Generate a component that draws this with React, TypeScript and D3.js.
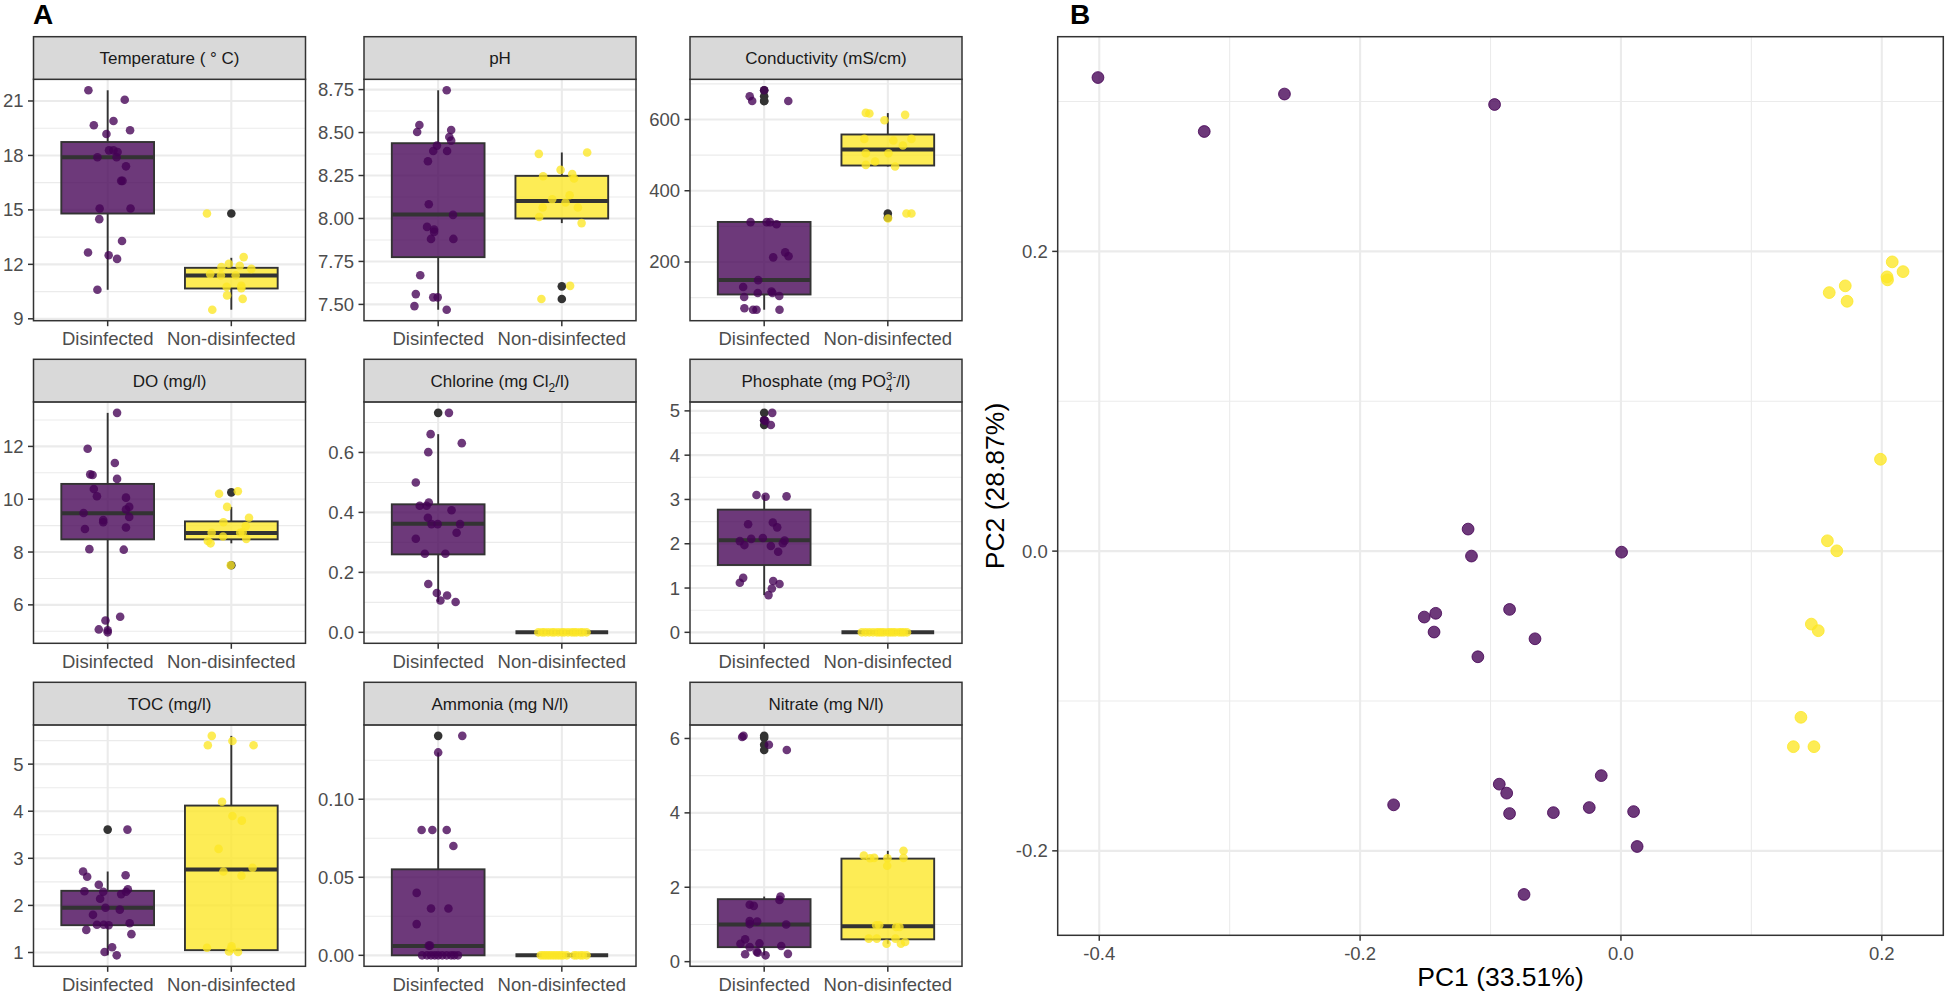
import React, { useEffect } from 'react';
import * as d3 from 'd3';

const FONT = '"Liberation Sans", Arial, Helvetica, sans-serif';
const GROUPS = ['Disinfected', 'Non-disinfected'];
const GROUP_COLORS = ['#440154', '#FDE725'];
const OUTLIER_COLOR = '#333333';

// ---------- Panel A data (values, jitter offsets in category units, box stats [lo, q1, med, q3, hi], outliers) ----------
const tempTicks = [9, 12, 15, 18, 21];
const tempDisVals = [21.59, 21.07, 19.66, 19.9, 19.39, 19.18, 18.28, 18.28, 18.19, 17.9, 17.9, 17.4, 16.6, 16.6, 15.08, 15.08, 14.49, 13.29, 12.65, 12.5, 12.3, 10.6];
const tempDisJit = [-0.156, 0.138, -0.112, 0.047, 0.181, -0.01, 0.011, 0.047, 0.08, -0.083, 0.072, 0.148, 0.109, 0.12, -0.065, 0.185, -0.068, 0.116, -0.159, 0.008, 0.076, -0.083];
const tempDisBox = [10.6, 14.8, 17.9, 18.74, 21.59];
const tempDisOut: number[] = [];
const tempNonVals = [14.8, 12.4, 12.03, 11.85, 11.92, 11.75, 11.46, 11.39, 11.4, 10.76, 10.82, 10.69, 10.29, 10.1, 9.5];
const tempNonJit = [-0.197, 0.1, -0.02, -0.08, 0.068, 0.162, -0.171, -0.084, 0.035, -0.038, 0.081, 0.081, -0.034, 0.092, -0.154];
const tempNonBox = [9.5, 10.67, 11.39, 11.81, 12.36];
const tempNonOut = [14.8];

const phTicks = [7.5, 7.75, 8.0, 8.25, 8.5, 8.75];
const phDisVals = [8.746, 8.544, 8.503, 8.515, 8.474, 8.453, 8.424, 8.393, 8.393, 8.333, 8.083, 8.021, 7.951, 7.936, 7.922, 7.881, 7.881, 7.67, 7.56, 7.541, 7.541, 7.49, 7.469];
const phDisJit = [0.069, -0.152, -0.17, 0.105, 0.09, 0.105, -0.01, -0.04, 0.072, -0.083, -0.076, 0.12, -0.09, -0.033, -0.033, -0.058, 0.123, -0.145, -0.181, -0.04, -0.004, -0.192, 0.069];
const phDisBox = [7.469, 7.775, 8.023, 8.438, 8.746];
const phDisOut: number[] = [];
const phNonVals = [8.376, 8.384, 8.283, 8.246, 8.258, 8.233, 8.135, 8.112, 8.093, 8.064, 8.064, 8.009, 7.973, 7.608, 7.531];
const phNonJit = [-0.186, 0.205, -0.01, -0.151, 0.084, 0.099, 0.063, -0.078, 0.03, -0.155, 0.13, -0.183, 0.16, 0.067, -0.165];
const phNonBox = [7.973, 8.0, 8.102, 8.248, 8.384];
const phNonOut = [7.605, 7.531];

const condTicks = [200, 400, 600];
const condDisVals = [682, 665, 652, 652, 312, 312, 312, 306, 227, 216, 213, 149, 130, 113, 117, 113, 104.5, 101.7, 70, 66, 66, 66];
const condDisJit = [0, -0.117, -0.097, 0.195, -0.11, 0.02, 0.047, 0.1, 0.17, 0.197, 0.073, -0.049, -0.17, -0.052, 0.059, 0.067, 0.122, -0.162, -0.16, -0.09, -0.062, 0.124];
const condDisBox = [66, 108.8, 149.4, 312.4, 312.4];
const condDisOut = [682, 665, 652, 652];
const condNonVals = [618.5, 616.9, 613, 598, 545.5, 541, 545.5, 527, 505.3, 505.3, 482, 472.5, 468, 336, 336, 322];
const condNonJit = [-0.178, -0.149, 0.14, -0.027, -0.19, 0.045, 0.191, 0.122, -0.178, 0.005, -0.103, -0.178, 0.059, 0.151, 0.191, 0.002];
const condNonBox = [468, 470.8, 515.7, 557.9, 618];
const condNonOut = [336, 324];

const doTicks = [6, 8, 10, 12];
const doDisVals = [13.27, 11.91, 11.37, 10.94, 10.92, 10.77, 10.39, 10.11, 10.06, 9.71, 9.61, 9.48, 9.33, 9.21, 9.13, 8.87, 8.93, 8.11, 8.09, 5.55, 5.41, 5.07, 5.04, 4.96];
const doDisJit = [0.076, -0.162, 0.058, -0.141, -0.122, 0.076, -0.112, -0.087, 0.148, 0.174, 0.148, -0.195, 0.174, -0.036, -0.036, -0.184, 0.148, -0.148, 0.13, 0.101, -0.018, -0.072, 0, 0];
const doDisBox = [4.96, 8.48, 9.47, 10.58, 13.27];
const doDisOut: number[] = [];
const doNonVals = [10.21, 10.3, 9.71, 9.3, 9.13, 8.98, 8.73, 8.73, 8.75, 8.59, 8.5, 8.42, 8.33, 7.5];
const doNonJit = [-0.099, 0.053, -0.034, 0.143, -0.064, 0.117, -0.159, 0.072, 0.092, -0.067, 0.121, -0.19, -0.168, -0.005];
const doNonBox = [8.33, 8.48, 8.72, 9.16, 9.71];
const doNonOut = [10.26, 7.5];

const clTicks = [0, 0.2, 0.4, 0.6];
const clDisVals = [0.732, 0.661, 0.601, 0.631, 0.5, 0.433, 0.422, 0.422, 0.407, 0.382, 0.361, 0.361, 0.361, 0.332, 0.312, 0.262, 0.262, 0.161, 0.131, 0.123, 0.106, 0.101];
const clDisJit = [0.087, -0.061, -0.08, 0.191, -0.181, -0.076, -0.149, -0.094, 0.108, -0.083, -0.054, -0.004, 0.177, 0.149, -0.181, -0.108, 0.058, -0.08, -0.011, 0.072, 0.018, 0.141];
const clDisBox = [0.101, 0.26, 0.362, 0.427, 0.661];
const clDisOut = [0.732];
const clNonVals = [0, 0, 0, 0, 0, 0, 0, 0, 0, 0, 0, 0, 0, 0, 0, 0];
const clNonJit = [-0.19, -0.16, -0.14, -0.11, -0.08, -0.06, -0.03, 0.0, 0.02, 0.05, 0.08, 0.1, 0.12, 0.15, 0.17, 0.2];
const clNonBox = [0, 0, 0, 0, 0];
const clNonOut: number[] = [];

const poTicks = [0, 1, 2, 3, 4, 5];
const poDisVals = [4.955, 4.79, 4.77, 4.68, 3.1, 3.06, 3.07, 2.44, 2.48, 2.37, 2.06, 2.11, 2.13, 1.97, 1.95, 2.07, 2.01, 1.82, 1.23, 1.12, 1.16, 1.09, 0.99, 0.84];
const poDisJit = [0.065, 0, 0.01, 0.054, -0.062, 0.011, 0.181, -0.13, 0.07, 0.105, -0.197, -0.105, -0.011, -0.16, 0.054, 0.165, 0.151, 0.113, -0.17, -0.197, 0.073, 0.124, 0.062, 0.035];
const poDisBox = [0.84, 1.52, 2.08, 2.77, 3.1];
const poDisOut = [4.955, 4.79, 4.68];
const poNonVals = [0, 0, 0, 0, 0, 0, 0, 0, 0, 0, 0, 0, 0, 0, 0, 0];
const poNonJit = [-0.21, -0.18, -0.15, -0.12, -0.09, -0.07, -0.05, -0.03, 0, 0.02, 0.04, 0.06, 0.09, 0.11, 0.13, 0.155];
const poNonBox = [0, 0, 0, 0, 0];
const poNonOut: number[] = [];

const tocTicks = [1, 2, 3, 4, 5];
const tocDisVals = [3.61, 2.72, 2.61, 2.64, 2.44, 2.3, 2.29, 2.34, 2.29, 2.24, 2.14, 1.95, 1.91, 1.8, 1.59, 1.59, 1.58, 1.62, 1.48, 1.39, 1.11, 1.01, 0.94];
const tocDisJit = [0.16, -0.199, -0.166, 0.145, -0.072, -0.188, -0.036, 0.163, 0.148, 0.109, -0.061, -0.018, 0.098, -0.119, -0.087, -0.032, 0.008, 0.178, -0.173, 0.192, 0.036, -0.025, 0.073];
const tocDisBox = [0.94, 1.58, 1.95, 2.31, 2.72];
const tocDisOut = [3.61];
const tocNonVals = [5.6, 5.4, 5.49, 5.4, 4.2, 3.9, 3.8, 3.2, 2.8, 2.72, 2.63, 1.1, 1.13, 1.02, 1.01, 1.08];
const tocNonJit = [-0.158, -0.19, 0.009, 0.18, -0.075, 0.009, 0.085, -0.103, 0.172, -0.064, 0.082, -0.197, 0.002, -0.019, 0.054, 0.002];
const tocNonBox = [1.01, 1.05, 2.76, 4.12, 5.6];
const tocNonOut: number[] = [];

const nh4Ticks = [0, 0.05, 0.1];
const nh4DisVals = [0.1406, 0.13, 0.0803, 0.0803, 0.0803, 0.07, 0.04, 0.03, 0.03, 0.02, 0.0062, 0.0062, 0, 0, 0, 0, 0, 0, 0, 0, 0, 0];
const nh4DisJit = [0.195, 0, -0.134, -0.047, 0.069, 0.123, -0.174, -0.058, 0.083, -0.174, -0.076, -0.066, -0.13, -0.09, -0.058, -0.028, 0, 0.033, 0.069, 0.105, 0.13, 0.16];
const nh4DisBox = [0, 0, 0.006, 0.0551, 0.13];
const nh4DisOut = [0.1406];
const nh4NonVals = [0, 0, 0, 0, 0, 0, 0, 0, 0, 0, 0, 0, 0, 0, 0, 0];
const nh4NonJit = [-0.17, -0.15, -0.13, -0.11, -0.09, -0.07, -0.05, -0.03, -0.01, 0.01, 0.04, 0.1, 0.12, 0.15, 0.17, 0.2];
const nh4NonBox = [0, 0, 0, 0, 0];
const nh4NonOut: number[] = [];

const no3Ticks = [0, 2, 4, 6];
const no3DisVals = [6.04, 6.07, 5.83, 5.69, 1.75, 1.66, 1.53, 1.5, 1.09, 1.08, 1.01, 1.0, 0.6, 0.48, 0.49, 0.39, 0.42, 0.27, 0.2, 0.24, 0.17, 0.21];
const no3DisJit = [-0.178, -0.167, 0.038, 0.183, 0.132, 0.124, -0.117, -0.084, -0.117, -0.057, -0.117, 0.178, -0.154, -0.192, -0.038, -0.117, 0.138, -0.06, -0.154, -0.052, 0.011, 0.192];
const no3DisBox = [0.17, 0.39, 1.0, 1.68, 1.75];
const no3DisOut = [6.07, 6.02, 5.83, 5.69];
const no3NonVals = [2.85, 2.78, 2.79, 2.78, 2.98, 2.79, 2.58, 0.98, 0.98, 0.93, 0.93, 0.62, 0.62, 0.62, 0.48, 0.48, 0.53];
const no3NonJit = [-0.194, -0.143, -0.11, -0.003, 0.127, 0.127, -0.005, -0.094, -0.07, 0.067, 0.094, -0.154, -0.089, 0.062, -0.01, 0.106, 0.14];
const no3NonBox = [0.48, 0.6, 0.95, 2.77, 2.98];
const no3NonOut: number[] = [];

// ---------- Panel B data (PCA scores) ----------
const pcaDisPC1 = [-0.401, -0.3195, -0.258, -0.0969, -0.1172, -0.1146, 0.0005, -0.142, -0.1508, -0.1433, -0.0854, -0.0659, -0.1097, -0.0151, -0.0933, -0.0876, -0.1743, -0.0854, -0.0518, -0.0243, 0.0097, 0.0124, -0.0743];
const pcaDisPC2 = [0.316, 0.28, 0.305, 0.298, 0.0147, -0.0033, -0.0007, -0.0415, -0.044, -0.054, -0.0389, -0.0585, -0.0705, -0.1498, -0.1555, -0.1615, -0.1693, -0.1751, -0.1745, -0.1711, -0.1738, -0.1971, -0.2291];
const pcaNonPC1 = [0.208, 0.2163, 0.204, 0.2044, 0.172, 0.1597, 0.1734, 0.199, 0.1583, 0.1655, 0.146, 0.1513, 0.138, 0.1322, 0.148];
const pcaNonPC2 = [0.193, 0.1865, 0.183, 0.181, 0.177, 0.1725, 0.1667, 0.0613, 0.0069, 0.0002, -0.0487, -0.0531, -0.1109, -0.1305, -0.1305];
const pcXTicks = [-0.4, -0.2, 0.0, 0.2];
const pcYTicks = [-0.2, 0.0, 0.2];
const pcXTitle = 'PC1 (33.51%)';
const pcYTitle = 'PC2 (28.87%)';

// ---------- layout ----------
const COL_LEFT = [33.5, 364, 690];
const ROW_TOP = [36.7, 359.3, 682.3];
const PANEL_W = 272;
const PANEL_H = 284;
const STRIP_H = 42.6;
const B_LEFT = 1057.7, B_RIGHT = 1943.3, B_TOP = 36.7, B_BOTTOM = 935.3;
const TICK_FS = 18.5;
const STRIP_FS = 17;
const GRID = '#EBEBEB';
const BORDER = '#333333';

type Group = { vals: number[]; jit: number[]; box: number[]; out: number[] };
type Panel = { key: string; ticks: number[]; fmt: string; groups: Group[] };

const panels: Panel[] = [
  { key: 'temp', ticks: tempTicks, fmt: 'd', groups: [
    { vals: tempDisVals, jit: tempDisJit, box: tempDisBox, out: tempDisOut },
    { vals: tempNonVals, jit: tempNonJit, box: tempNonBox, out: tempNonOut }] },
  { key: 'ph', ticks: phTicks, fmt: '.2f', groups: [
    { vals: phDisVals, jit: phDisJit, box: phDisBox, out: phDisOut },
    { vals: phNonVals, jit: phNonJit, box: phNonBox, out: phNonOut }] },
  { key: 'cond', ticks: condTicks, fmt: 'd', groups: [
    { vals: condDisVals, jit: condDisJit, box: condDisBox, out: condDisOut },
    { vals: condNonVals, jit: condNonJit, box: condNonBox, out: condNonOut }] },
  { key: 'do', ticks: doTicks, fmt: 'd', groups: [
    { vals: doDisVals, jit: doDisJit, box: doDisBox, out: doDisOut },
    { vals: doNonVals, jit: doNonJit, box: doNonBox, out: doNonOut }] },
  { key: 'cl', ticks: clTicks, fmt: '.1f', groups: [
    { vals: clDisVals, jit: clDisJit, box: clDisBox, out: clDisOut },
    { vals: clNonVals, jit: clNonJit, box: clNonBox, out: clNonOut }] },
  { key: 'po', ticks: poTicks, fmt: 'd', groups: [
    { vals: poDisVals, jit: poDisJit, box: poDisBox, out: poDisOut },
    { vals: poNonVals, jit: poNonJit, box: poNonBox, out: poNonOut }] },
  { key: 'toc', ticks: tocTicks, fmt: 'd', groups: [
    { vals: tocDisVals, jit: tocDisJit, box: tocDisBox, out: tocDisOut },
    { vals: tocNonVals, jit: tocNonJit, box: tocNonBox, out: tocNonOut }] },
  { key: 'nh4', ticks: nh4Ticks, fmt: '.2f', groups: [
    { vals: nh4DisVals, jit: nh4DisJit, box: nh4DisBox, out: nh4DisOut },
    { vals: nh4NonVals, jit: nh4NonJit, box: nh4NonBox, out: nh4NonOut }] },
  { key: 'no3', ticks: no3Ticks, fmt: 'd', groups: [
    { vals: no3DisVals, jit: no3DisJit, box: no3DisBox, out: no3DisOut },
    { vals: no3NonVals, jit: no3NonJit, box: no3NonBox, out: no3NonOut }] },
];

function StripTitle({ k }: { k: string }) {
  switch (k) {
    case 'temp': return <>Temperature ( ° C)</>;
    case 'ph': return <>pH</>;
    case 'cond': return <>Conductivity (mS/cm)</>;
    case 'do': return <>DO (mg/l)</>;
    case 'cl': return <>Chlorine (mg Cl<tspan fontSize={12} dy={5}>2</tspan><tspan dy={-5}>/l)</tspan></>;
    case 'po': return <>Phosphate (mg PO<tspan fontSize={11.5} dy={5}>4</tspan><tspan fontSize={11.5} dx={-6.4} dy={-12}>3-</tspan><tspan dy={7}>/l)</tspan></>;
    case 'toc': return <>TOC (mg/l)</>;
    case 'nh4': return <>Ammonia (mg N/l)</>;
    case 'no3': return <>Nitrate (mg N/l)</>;
  }
  return null;
}

function minorBreaks(major: number[], domain: number[]) {
  const step = major[1] - major[0];
  const res: number[] = [];
  const lo = Math.min(domain[0], domain[1]);
  const hi = Math.max(domain[0], domain[1]);
  for (let i = -1; i < major.length; i++) {
    const v = major[0] + (i + 0.5) * step;
    if (v >= lo && v <= hi) res.push(v);
  }
  return res;
}

function BoxPanel({ panel, col, row }: { panel: Panel; col: number; row: number }) {
  const left = COL_LEFT[col];
  const top = ROW_TOP[row];
  const plotTop = top + STRIP_H;
  const plotBottom = top + PANEL_H;
  const all = panel.groups.flatMap((g) => g.vals.concat(g.out));
  const [lo, hi] = d3.extent(all) as [number, number];
  const pad = (hi - lo) * 0.05;
  const y = d3.scaleLinear().domain([lo - pad, hi + pad]).range([plotBottom, plotTop]);
  const x = d3.scalePoint<string>().domain(GROUPS).range([left, left + PANEL_W]).padding(0.6);
  const step = x.step();
  const bw = step * 0.75;
  const fmt = d3.format(panel.fmt);
  const majors = panel.ticks.filter((t) => t >= y.domain()[0] && t <= y.domain()[1]);
  const minors = minorBreaks(panel.ticks, y.domain());
  return (
    <g>
      <rect x={left} y={plotTop} width={PANEL_W} height={plotBottom - plotTop} fill="#fff" />
      {minors.map((t, i) => (
        <line key={'mn' + i} x1={left} x2={left + PANEL_W} y1={y(t)} y2={y(t)} stroke={GRID} strokeWidth={1.1} />
      ))}
      {majors.map((t, i) => (
        <line key={'mj' + i} x1={left} x2={left + PANEL_W} y1={y(t)} y2={y(t)} stroke={GRID} strokeWidth={2.1} />
      ))}
      {GROUPS.map((g) => (
        <line key={'vg' + g} x1={x(g)} x2={x(g)} y1={plotTop} y2={plotBottom} stroke={GRID} strokeWidth={2.1} />
      ))}
      {panel.groups.map((grp, gi) => {
        const cx = x(GROUPS[gi])!;
        const [wl, q1, md, q3, wh] = grp.box;
        return (
          <g key={'box' + gi}>
            <line x1={cx} x2={cx} y1={y(q3)} y2={y(wh)} stroke={BORDER} strokeWidth={1.9} />
            <line x1={cx} x2={cx} y1={y(q1)} y2={y(wl)} stroke={BORDER} strokeWidth={1.9} />
            <rect x={cx - bw / 2} y={y(q3)} width={bw} height={Math.max(0, y(q1) - y(q3))}
              fill={GROUP_COLORS[gi]} fillOpacity={0.78} stroke={BORDER} strokeWidth={1.9} />
            <line x1={cx - bw / 2} x2={cx + bw / 2} y1={y(md)} y2={y(md)} stroke={BORDER} strokeWidth={4} />
            {grp.out.map((o, i) => (
              <circle key={'o' + i} cx={cx} cy={y(o)} r={4.3} fill={OUTLIER_COLOR} />
            ))}
          </g>
        );
      })}
      {panel.groups.map((grp, gi) => {
        const cx = x(GROUPS[gi])!;
        return (
          <g key={'pts' + gi}>
            {grp.vals.map((v, i) => (
              <circle key={i} cx={cx + grp.jit[i] * step} cy={y(v)} r={4.3} fill={GROUP_COLORS[gi]} fillOpacity={0.78} />
            ))}
          </g>
        );
      })}
      <rect x={left} y={plotTop} width={PANEL_W} height={plotBottom - plotTop} fill="none" stroke={BORDER} strokeWidth={1.5} />
      <rect x={left} y={top} width={PANEL_W} height={STRIP_H} fill="#D9D9D9" stroke={BORDER} strokeWidth={1.5} />
      <text x={left + PANEL_W / 2} y={top + STRIP_H / 2} dy="0.35em" textAnchor="middle" fontFamily={FONT}
        fontSize={STRIP_FS} fill="#1A1A1A">
        <StripTitle k={panel.key} />
      </text>
      {majors.map((t, i) => (
        <g key={'yt' + i}>
          <line x1={left - 5.5} x2={left} y1={y(t)} y2={y(t)} stroke={BORDER} strokeWidth={1.5} />
          <text x={left - 10} y={y(t)} dy="0.35em" textAnchor="end" fontFamily={FONT} fontSize={TICK_FS} fill="#4D4D4D">
            {fmt(t)}
          </text>
        </g>
      ))}
      {GROUPS.map((g) => (
        <g key={'xt' + g}>
          <line x1={x(g)} x2={x(g)} y1={plotBottom} y2={plotBottom + 5.5} stroke={BORDER} strokeWidth={1.5} />
          <text x={x(g)} y={plotBottom + 24.5} textAnchor="middle" fontFamily={FONT} fontSize={TICK_FS} fill="#4D4D4D">
            {g}
          </text>
        </g>
      ))}
    </g>
  );
}

function PcaPanel() {
  const allX = pcaDisPC1.concat(pcaNonPC1);
  const allY = pcaDisPC2.concat(pcaNonPC2);
  const [x0, x1] = d3.extent(allX) as [number, number];
  const [y0, y1] = d3.extent(allY) as [number, number];
  const px = (x1 - x0) * 0.05;
  const py = (y1 - y0) * 0.05;
  const x = d3.scaleLinear().domain([x0 - px, x1 + px]).range([B_LEFT, B_RIGHT]);
  const y = d3.scaleLinear().domain([y0 - py, y1 + py]).range([B_BOTTOM, B_TOP]);
  const fx = d3.format('.1f');
  const xMin = minorBreaks(pcXTicks, x.domain());
  const yMin = minorBreaks(pcYTicks, y.domain());
  const series = [
    { xs: pcaDisPC1, ys: pcaDisPC2, color: GROUP_COLORS[0] },
    { xs: pcaNonPC1, ys: pcaNonPC2, color: GROUP_COLORS[1] },
  ];
  return (
    <g>
      <rect x={B_LEFT} y={B_TOP} width={B_RIGHT - B_LEFT} height={B_BOTTOM - B_TOP} fill="#fff" />
      {xMin.map((t, i) => (
        <line key={'xm' + i} x1={x(t)} x2={x(t)} y1={B_TOP} y2={B_BOTTOM} stroke={GRID} strokeWidth={1.1} />
      ))}
      {yMin.map((t, i) => (
        <line key={'ym' + i} x1={B_LEFT} x2={B_RIGHT} y1={y(t)} y2={y(t)} stroke={GRID} strokeWidth={1.1} />
      ))}
      {pcXTicks.map((t, i) => (
        <line key={'xM' + i} x1={x(t)} x2={x(t)} y1={B_TOP} y2={B_BOTTOM} stroke={GRID} strokeWidth={2.1} />
      ))}
      {pcYTicks.map((t, i) => (
        <line key={'yM' + i} x1={B_LEFT} x2={B_RIGHT} y1={y(t)} y2={y(t)} stroke={GRID} strokeWidth={2.1} />
      ))}
      {series.map((s, si) => (
        <g key={'s' + si}>
          {s.xs.map((v, i) => (
            <circle key={i} cx={x(v)} cy={y(s.ys[i])} r={5.9} fill={s.color} fillOpacity={0.78}
              stroke={s.color} strokeOpacity={0.9} strokeWidth={0.9} />
          ))}
        </g>
      ))}
      <rect x={B_LEFT} y={B_TOP} width={B_RIGHT - B_LEFT} height={B_BOTTOM - B_TOP} fill="none" stroke={BORDER} strokeWidth={1.5} />
      {pcXTicks.map((t, i) => (
        <g key={'xt' + i}>
          <line x1={x(t)} x2={x(t)} y1={B_BOTTOM} y2={B_BOTTOM + 5.5} stroke={BORDER} strokeWidth={1.5} />
          <text x={x(t)} y={B_BOTTOM + 24.5} textAnchor="middle" fontFamily={FONT} fontSize={TICK_FS} fill="#4D4D4D">
            {fx(t).replace('−', '-')}
          </text>
        </g>
      ))}
      {pcYTicks.map((t, i) => (
        <g key={'yt' + i}>
          <line x1={B_LEFT - 5.5} x2={B_LEFT} y1={y(t)} y2={y(t)} stroke={BORDER} strokeWidth={1.5} />
          <text x={B_LEFT - 10} y={y(t)} dy="0.35em" textAnchor="end" fontFamily={FONT} fontSize={TICK_FS} fill="#4D4D4D">
            {fx(t).replace('−', '-')}
          </text>
        </g>
      ))}
      <text x={(B_LEFT + B_RIGHT) / 2} y={986} textAnchor="middle" fontFamily={FONT} fontSize={26.5} fill="#000">
        {pcXTitle}
      </text>
      <text transform={`translate(1004,${(B_TOP + B_BOTTOM) / 2}) rotate(-90)`} textAnchor="middle" fontFamily={FONT}
        fontSize={26.5} fill="#000">
        {pcYTitle}
      </text>
    </g>
  );
}

export default function App() {
  useEffect(() => {
    document.body.style.margin = '0';
  }, []);
  return (
    <svg width={1946} height={996} viewBox="0 0 1946 996" style={{ display: 'block', position: 'absolute', left: 0, top: 0, background: '#fff' }}>
      <rect x={0} y={0} width={1946} height={996} fill="#fff" />
      {panels.map((p, i) => (
        <BoxPanel key={p.key} panel={p} col={i % 3} row={Math.floor(i / 3)} />
      ))}
      <PcaPanel />
      <text x={33} y={23.5} fontFamily={FONT} fontWeight="bold" fontSize={28} fill="#000">A</text>
      <text x={1070} y={23.5} fontFamily={FONT} fontWeight="bold" fontSize={28} fill="#000">B</text>
    </svg>
  );
}
